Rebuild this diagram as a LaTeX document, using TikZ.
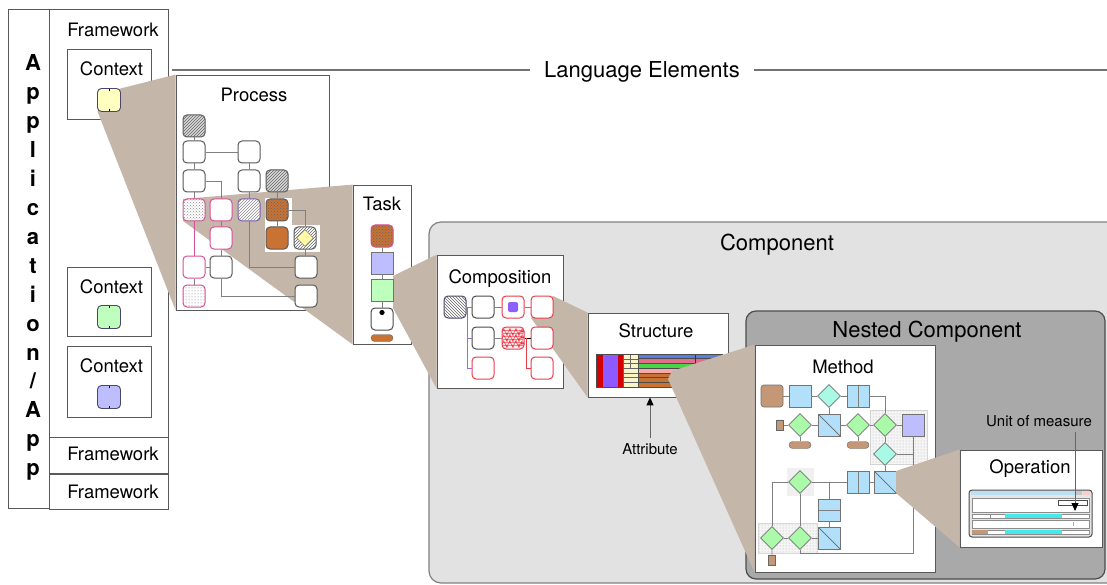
\documentclass[tikz,border=0pt]{standalone}
\usepackage{fontspec}
\setmainfont{TeX Gyre Heros}
\usetikzlibrary{
    positioning,    % relative placement of labels
    arrows.meta,    % Triangle / Stealth tips
    shapes.geometric,% diamond, cylinder
    patterns,       % hatched and dotted tiles
    calc,
    decorations.pathmorphing % wavy tile
}
\definecolor{wedgebrown}{RGB}{197,182,170}
\definecolor{compgray}{RGB}{226,226,226}
\definecolor{nestgray}{RGB}{169,169,169}
\definecolor{ctxyellow}{RGB}{255,255,192}
\definecolor{ctxgreen}{RGB}{190,255,190}
\definecolor{ctxpurple}{RGB}{190,190,255}
\definecolor{ctxedge}{RGB}{75,70,105}
\definecolor{tileorange}{RGB}{200,114,52}
\definecolor{pinkline}{RGB}{215,80,150}
\definecolor{redline}{RGB}{232,60,75}
\definecolor{purpline}{RGB}{150,110,220}
\definecolor{purpdot}{RGB}{140,95,255}
\definecolor{methblue}{RGB}{178,224,250}
\definecolor{methteal}{RGB}{168,250,228}
\definecolor{methgreen}{RGB}{170,250,170}
\definecolor{methbrown}{RGB}{196,152,118}
\definecolor{barred}{RGB}{212,0,0}
\definecolor{barpurple}{RGB}{140,90,255}
\definecolor{baryellow}{RGB}{250,245,200}
\definecolor{stripeblue}{RGB}{90,125,225}
\definecolor{stripepink}{RGB}{225,110,140}
\definecolor{stripegreen}{RGB}{70,215,70}
\definecolor{stripelight}{RGB}{245,170,170}
\definecolor{cyanbar}{RGB}{70,232,232}
\definecolor{titleblue}{RGB}{185,225,245}

\begin{document}
\begin{tikzpicture}[
    x=1pt, y=-1pt, % pixel grid, y downwards
    >=Stealth,
    % Styles
    box/.style={rectangle, draw=black!65, fill=white, line width=0.8pt, inner sep=0pt},
    lbl/.style={font=\fontsize{18.5}{20}\selectfont, text height=13.3pt, text depth=0pt, inner sep=0pt},
    title/.style={font=\fontsize{22}{24}\selectfont, text height=15.8pt, text depth=0pt, inner sep=0pt},
    note/.style={font=\fontsize{15}{17}\selectfont, text height=10.8pt, text depth=0pt, inner sep=0pt},
    appletter/.style={font=\fontsize{22}{24}\selectfont\bfseries, anchor=base, inner sep=0pt},
    rule/.style={draw=black!55, line width=1.2pt},
    wedge/.style={fill=wedgebrown},
    ctxsq/.style={rectangle, draw=ctxedge, rounded corners=4pt, minimum size=23pt, inner sep=0pt, line width=0.9pt,
        path picture={\draw[black, line width=0.6pt] (path picture bounding box.north) -- ++(0,-2.5pt)
            (path picture bounding box.south) -- ++(0,2.5pt);}},
    tile/.style={rectangle, draw=black!65, fill=white, rounded corners=4pt, minimum size=22pt, inner sep=0pt, line width=1pt},
    pinktile/.style={tile, draw=pinkline},
    redtile/.style={tile, draw=redline},
    hatch/.style={postaction={pattern=north east lines, pattern color=#1}},
    dotted tile/.style={postaction={pattern=crosshatch dots, pattern color=#1}},
    wavy/.style={path picture={\foreach \dy in {-6pt,0pt,6pt}
        \draw[redline, line width=0.6pt, decorate, decoration={snake, amplitude=1.4pt, segment length=6pt}]
            ([yshift=\dy]path picture bounding box.west) -- ([yshift=\dy]path picture bounding box.east);}},
    sq/.style={rectangle, draw=black!55, minimum size=22pt, inner sep=0pt, line width=0.7pt},
    mbox/.style={sq, fill=methblue},
    vsplit/.style={path picture={\draw[black!50] (path picture bounding box.north) -- (path picture bounding box.south);}},
    hsplit/.style={path picture={\draw[black!50] (path picture bounding box.west) -- (path picture bounding box.east);}},
    dsplit/.style={path picture={\draw[black!60] (path picture bounding box.north west) -- (path picture bounding box.south east);}},
    mdia/.style={diamond, draw=black!55, fill=methgreen, minimum size=23pt, inner sep=0pt, line width=0.7pt},
    cyl/.style={cylinder, shape border rotate=90, aspect=0.35, draw=black!60, fill=methbrown,
        minimum width=7pt, minimum height=10pt, inner sep=0pt},
    pill/.style={rectangle, rounded corners=3.5pt, draw=black!60, fill=methbrown, minimum width=22pt,
        minimum height=7pt, inner sep=0pt},
    link/.style={draw=black!50, line width=0.9pt},
    pinklink/.style={draw=pinkline, line width=0.9pt},
    purplink/.style={draw=purpline, line width=0.9pt},
    redlink/.style={draw=redline, line width=0.9pt},
    pointer/.style={draw=black!60, line width=0.9pt, -{Triangle[length=8pt, width=7pt, color=black]}}
]
\useasboundingbox (0,0) rectangle (1107,585);
\clip (0,0) rectangle (1107,585);

% --- Component areas ---
\node[rectangle, rounded corners=12pt, draw=black!50, fill=compgray, line width=1.2pt,
    minimum width=696pt, minimum height=361pt] (comp) at (777,402.5) {};
\node[title, below=13pt of comp.north] (comptitle) {Component};
\node[rectangle, rounded corners=10pt, draw=black!70, fill=nestgray, line width=1.2pt,
    minimum width=359pt, minimum height=268pt] (nest) at (925.5,445) {};
\node[title, below=11pt of nest.north, xshift=1.5pt] (nesttitle) {Nested Component};

% --- Language elements rule ---
\node[title, inner xsep=14pt] (lang) at (642,70) {Language Elements};
\coordinate (rulestart) at (172,70);
\coordinate (ruleend) at (1110,70);
\draw[rule] (rulestart) -- (lang);
\draw[rule] (lang) -- (ruleend);

% --- Application / framework column ---
\node[box, minimum width=41pt, minimum height=499pt] (appcol) at (28.5,258.5) {};
\node[box, minimum width=119pt, minimum height=428pt] (fwcell) at (108.5,223) {};
\node[box, minimum width=119pt, minimum height=36pt, below=0pt of fwcell] (fwmid) {};
\node[box, minimum width=119pt, minimum height=35pt, below=0pt of fwmid] (fwlow) {};
\node[lbl, below=14pt of fwcell.north, xshift=4.5pt] (fwtoplbl) {Framework};
\node[lbl, xshift=4.5pt, yshift=2pt] (fwmidlbl) at (fwmid) {Framework};
\node[lbl, xshift=4.5pt] (fwlowlbl) at (fwlow) {Framework};
\foreach \ch [count=\i from 0] in {A,p,p,l,i,c,a,t,i,o,n,/,A,p,p}
    \node[appletter] (ltr\i) at (33, 71+28.9*\i) {\ch};

% contexts
\node[box, minimum width=84pt, minimum height=70pt] (ctxa) at (109,84) {};
\node[box, minimum width=84pt, minimum height=69pt] (ctxb) at (109,301.5) {};
\node[box, minimum width=84pt, minimum height=71pt, below=10pt of ctxb] (ctxc) {};
\node[lbl, below=13pt of ctxa.north, xshift=2.5pt] (ctxalbl) {Context};
\node[lbl, below=13pt of ctxb.north, xshift=2.5pt] (ctxblbl) {Context};
\node[lbl, below=12.5pt of ctxc.north, xshift=2.5pt] (ctxclbl) {Context};

% --- Process and Task frames ---
\node[box, minimum width=153pt, minimum height=235pt] (proc) at (252.5,192.5) {};
\node[box, minimum width=58pt, minimum height=159pt] (task) at (382,264.5) {};

% zoom wedge context -> process
\coordinate (w1top) at (120.5,88.5);
\coordinate (w1bot) at (97.5,111.5);
\fill[wedge] (w1top) -- (proc.north west) -- (proc.south west) -- (w1bot) -- cycle;
\node[ctxsq, fill=ctxyellow] (sqa) at (109,100) {};
\node[ctxsq, fill=ctxgreen] (sqb) at (109,317) {};
\node[ctxsq, fill=ctxpurple] (sqc) at (109,397) {};

% zoom wedge process -> task
\coordinate (w2top) at (183,199);
\coordinate (w2bot) at (183,221);
\fill[wedge] (w2top) -- (task.north west) -- (task.south west) -- (w2bot) -- cycle;

\node[lbl, below=13.5pt of proc.north, xshift=1.5pt] (proclbl) {Process};
\fill[white] (265,198) rectangle (292,252);
\fill[white] (292,225) rectangle (320,252);
\node[tile, fill=gray!30, hatch=black!60] (p1) at (194,126) {};
\node[tile] (p2) at (194,152) {};
\node[tile] (p3) at (249,152) {};
\node[tile] (p4) at (194,181) {};
\node[tile] (p5) at (249,181) {};
\node[tile, fill=gray!30, hatch=black!60] (p6) at (277,181) {};
\node[pinktile, dotted tile=black!45] (p7) at (194,210) {};
\node[pinktile] (p8) at (221,210) {};
\node[tile, draw=purpline!80!black, hatch=black!45] (p9) at (249,210) {};
\node[tile, fill=tileorange, dotted tile=black!60] (p10) at (277,210) {};
\node[pinktile] (p11) at (221,238) {};
\node[tile, fill=tileorange] (p12) at (277,238) {};
\node[tile, hatch=black!60] (p13) at (305,238) {};
\node[diamond, draw=black!60, fill=yellow!35, minimum size=17pt, inner sep=0pt] (p13d) at (p13) {};
\node[pinktile] (p14) at (194,267) {};
\node[tile] (p15) at (221,267) {};
\node[tile] (p16) at (306,267) {};
\node[pinktile, postaction={pattern=dots, pattern color=black!55}] (p17) at (194,296) {};
\node[tile] (p18) at (306,296) {};
\draw[link] (p1) -- (p2) -- (p4) -- (p7);
\draw[link] (p2) -- (p3) -- (p5) -- (p9);
\draw[link] (p9) |- (p16);
\draw[link] (p4) -| (p8);
\draw[link] (p6) -- (p10);
\draw[link] (p10) -| (p13);
\draw[link] (p13) -- (p16);
\draw[pinklink] (p10) -- (p12);
\draw[pinklink] (p7) -- (p14);
\draw[pinklink] (p8) -- (p11);
\draw[link] (p11) -- (p15);
\draw[link] (p14) -- (p15);
\draw[link] (p14) -- (p17);
\draw[link] (p15) |- (p18);

% --- Composition frame and Task content ---
\node[box, minimum width=126pt, minimum height=133pt] (compo) at (500,321.5) {};
\coordinate (w3top) at (393,276);
\coordinate (w3bot) at (393,308);
\fill[wedge] (w3top) -- (compo.north west) -- (compo.south west) -- (w3bot) -- cycle;

\node[lbl, below=12.5pt of task.north] (tasklbl) {Task};
\node[tile, fill=tileorange, dotted tile=black!60, draw=pinkline] (t1) at (382,236) {};
\node[sq, fill=ctxpurple] (t2) at (382,263) {};
\node[sq, fill=ctxgreen] (t3) at (382,290) {};
\node[pinktile, draw=black!70] (t4) at (382,319) {};
\node[pill, fill=tileorange] (t5) at (382,338) {};
\fill (t4.north) ++(0,5) circle (2.6pt);
\draw[link] (t1) -- (t2);
\draw[link] (t2) -- (t3);
\draw[link] (t3) -- (t4);

% --- Structure frame and Composition content ---
\node[box, minimum width=140pt, minimum height=84pt] (strct) at (658,355) {};
\coordinate (w4top) at (553,296);
\coordinate (w4bot) at (531,318);
\fill[wedge] (w4top) -- (strct.north west) -- (strct.south west) -- (w4bot) -- cycle;

\node[lbl, below=15.5pt of compo.north] (compolbl) {Composition};
\node[tile, draw=ctxedge, postaction={pattern=north west lines, pattern color=black!60}] (c1) at (455,307) {};
\node[tile, draw=black!70] (c2) at (483,307) {};
\node[redtile] (c3) at (513,307) {};
\node[rectangle, rounded corners=2pt, fill=purpdot, minimum size=10pt, inner sep=0pt] (c3dot) at (c3) {};
\node[redtile] (c4) at (542,307) {};
\node[tile, draw=black!70] (c5) at (483,338) {};
\node[redtile, fill=red!8, wavy] (c6) at (513,338) {};
\node[redtile] (c7) at (542,338) {};
\node[redtile] (c8) at (483,368) {};
\node[redtile] (c9) at (542,368) {};
\draw[purplink] (c1) -- (c2);
\draw[pinklink] (c2) -- (c3);
\draw[pinklink] (c3) -- (c4);
\draw[purplink] ($(c2.west)+(-4,0)$) |- (c8);
\draw[purplink] (c5.west) -- ++(-4,0);
\draw[link] (c5) -- (c6);
\draw[draw=black, line width=0.9pt] (c6) -- (c7);
\draw[redlink] ($(c7.west)+(-4,0)$) |- (c9);

% --- Structure content (attribute bars) ---
\node[lbl, below=11.5pt of strct.north, xshift=-2pt] (strctlbl) {Structure};
\fill[barred] (596,354) rectangle (603,387);
\fill[barpurple] (603,354) rectangle (618,387);
\fill[barred] (618,354) rectangle (623,387);
\foreach \k in {0,...,6}
    \filldraw[fill=baryellow, draw=black!60, line width=0.4pt] (623,354+4.71*\k) rectangle ++(15,4.71);
\draw[black!60, line width=0.5pt] (630,354) -- (630,368);
\foreach \k/\cc in {0/stripeblue,1/stripepink,2/stripegreen,3/stripelight,4/tileorange,5/tileorange,6/tileorange}
    \filldraw[fill=\cc, draw=black!70, line width=0.5pt] (638,354+4.71*\k) rectangle ++(84,4.71);
\draw[black!80, line width=0.6pt] (695,354) -- (695,368);
\draw[black!70, line width=0.6pt] (596,354) rectangle (722,387);

% --- Method frame ---
\node[box, minimum width=180pt, minimum height=227pt] (meth) at (845,458.5) {};
\coordinate (w5top) at (672,371);
\coordinate (w5bot) at (668,379);
\fill[wedge] (w5top) -- (meth.north west) -- (meth.south west) -- (w5bot) -- cycle;
\node[lbl, below=15pt of meth.north, xshift=-2pt] (methlbl) {Method};

% backgrounds inside the method
\fill[gray!12] (787,468) rectangle (814,496);
\filldraw[fill=gray!8, draw=gray!30, postaction={pattern=dots, pattern color=black!30}] (758,523) rectangle (817,553);
\filldraw[fill=gray!8, draw=gray!30, postaction={pattern=dots, pattern color=black!30}] (870,410) rectangle (927,464);

\node[sq, fill=methbrown, rounded corners=3pt] (m1) at (772,396) {};
\node[mbox] (m2) at (800,396) {};
\node[mdia, fill=methteal] (m3) at (829,396) {};
\node[mbox, vsplit] (m4) at (858,396) {};
\node[cyl] (m5) at (780,425) {};
\node[mdia] (m6) at (800,425) {};
\node[mbox, dsplit] (m7) at (829,425) {};
\node[mdia] (m8) at (858,425) {};
\node[mdia] (m9) at (885,425) {};
\node[sq, fill=ctxpurple] (m10) at (913,425) {};
\node[pill] (m11) at (800,445) {};
\node[pill] (m12) at (858,445) {};
\node[mdia, fill=methteal] (m13) at (885,454) {};
\node[mdia] (m14) at (800,482) {};
\node[mbox, vsplit] (m15) at (858,482) {};
\node[mbox, dsplit] (m16) at (885,482) {};
\node[mbox, hsplit] (m17) at (829,510) {};
\node[mdia] (m18) at (772,538) {};
\node[mdia] (m19) at (800,538) {};
\node[mbox, dsplit] (m20) at (829,538) {};
\node[cyl] (m21) at (772,560) {};
\draw[link] (m1) -- (m2) -- (m3) -- (m4);
\draw[link] (m4) -| (m9);
\draw[link] (m3) -- (m7);
\draw[link] (m5) -- (m6) -- (m7) -- (m8) -- (m9) -- (m10);
\draw[link] (m6) -- (m11);
\draw[link] (m8) -- (m12);
\draw[link] (m9) -- (m13) -- (m16);
\draw[link] (m13) -- (m13 -| m10);
\draw[link] (m10) |- ($(m19.south)+(0,4)$) -- (m19);
\draw[link] (m14) -| (m18);
\draw[link] (m14) -- (m15);
\draw[link] (m14) -- (m19);
\draw[link] (m18) -- (m19) -- (m20);
\draw[link] (m17) -- (m20);
\draw[link] (m17) -- (m17 |- m14);
\draw[link] (m15) -- (m16);
\draw[link] (m18) -- (m21);

% --- Operation frame ---
\node[box, minimum width=142pt, minimum height=97pt] (oper) at (1031,498.5) {};
\coordinate (w6top) at (896,471);
\coordinate (w6bot) at (896,493);
\fill[wedge] (w6top) -- (oper.north west) -- (oper.south west) -- (w6bot) -- cycle;
\node[lbl, below=10pt of oper.north, xshift=-1pt] (operlbl) {Operation};

% operation window
\node[rectangle, rounded corners=3pt, draw=black!70, fill=gray!20, line width=1pt,
    minimum width=123pt, minimum height=47pt, inner sep=0pt] (win) at (1030.5,513.5) {};
\fill[titleblue] (971,491) rectangle (1075,495);
\fill[gray!45] (1076,491) rectangle (1082,495);
\fill[pink!80] (1083,491) rectangle (1090,495);
\filldraw[fill=white, draw=black!45, line width=0.4pt] (972,498) rectangle (1089,512);
\draw[black!70, line width=0.6pt] (1058,500) rectangle (1087,505);
\filldraw[fill=white, draw=black!45, line width=0.4pt] (972,514) rectangle (1089,518);
\fill[cyanbar] (1005,514.3) rectangle (1062,517.7);
\draw[black!45, line width=0.4pt] (990,514) -- (990,518);
\filldraw[fill=white, draw=black!45, line width=0.4pt] (972,520) rectangle (1089,528);
\draw[black!35, line width=0.5pt] (1073,522) -- (1073,526);
\filldraw[fill=white, draw=black!45, line width=0.4pt] (972,530) rectangle (1089,534);
\fill[methbrown] (972.3,530.3) rectangle (988,533.7);
\fill[cyanbar] (1005,530.3) rectangle (1062,533.7);

% --- Pointers ---
\node[note] (attr) at (650,449) {Attribute};
\draw[pointer] ([yshift=5pt]attr.north) -- (attr.north |- strct.south);
\node[note] (unit) at (1039,421) {Unit of measure};
\coordinate (unittip) at (1075,511);
\draw[pointer] (unittip |- unit.south) ++(0,5) -- (unittip);

\end{tikzpicture}
\end{document}
